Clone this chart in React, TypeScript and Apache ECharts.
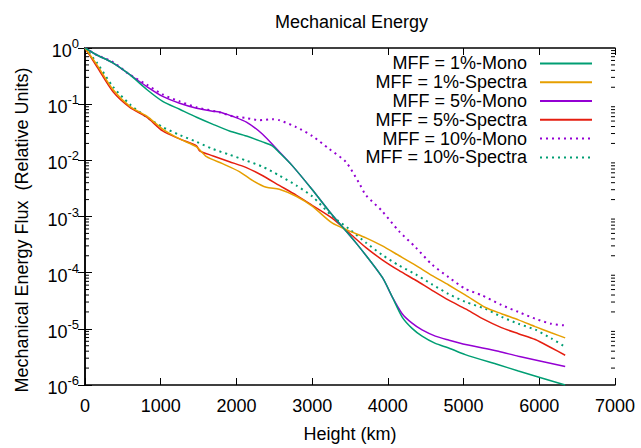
import React, { useEffect, useRef } from "react";
import * as echarts from "echarts";

const FONT = "'Liberation Sans', Arial, Helvetica, sans-serif";

const seriesNames = [
  "MFF = 1%-Mono",
  "MFF = 1%-Spectra",
  "MFF = 5%-Mono",
  "MFF = 5%-Spectra",
  "MFF = 10%-Mono",
  "MFF = 10%-Spectra",
];

// MFF = 1%-Mono
const mono1Height = [0, 150, 368, 592, 816, 1026, 1250, 1474, 1684, 1908, 2132, 2342, 2474, 2566, 2737, 3000, 3263, 3579, 3925, 4057, 4189, 4320, 4452, 4627, 4803, 5022, 5461, 5724, 6342];
const mono1Flux = [1, 0.759, 0.545, 0.335, 0.1824, 0.1122, 0.0811, 0.0586, 0.0442, 0.0333, 0.0272, 0.0213, 0.0181, 0.0138, 0.00805, 0.00302, 0.00107, 0.000339, 8.32e-5, 3.72e-5, 1.62e-5, 1.02e-5, 7.41e-6, 5.5e-6, 4.57e-6, 3.47e-6, 2.29e-6, 1.78e-6, 1.0e-6];

// MFF = 1%-Spectra
const spec1Height = [0, 158, 368, 592, 816, 1026, 1250, 1474, 1605, 1816, 2039, 2211, 2395, 2566, 2789, 3000, 3263, 3487, 3711, 3921, 4145, 4368, 4579, 4803, 5026, 5289, 5500, 5724, 5947, 6158, 6342];
const spec1Flux = [1, 0.501, 0.1824, 0.0916, 0.0611, 0.0361, 0.02405, 0.01738, 0.01159, 0.00873, 0.00631, 0.00439, 0.00331, 0.00305, 0.00229, 0.00153, 0.000767, 0.000556, 0.000417, 0.000302, 0.000202, 0.0001349, 8.97e-5, 6.03e-5, 3.98e-5, 2.4e-5, 1.86e-5, 1.445e-5, 1.096e-5, 8.5e-6, 6.9e-6];

// MFF = 5%-Mono
const mono5Height = [0, 150, 368, 592, 816, 1026, 1250, 1474, 1684, 1776, 1850, 1947, 2132, 2342, 2566, 2737, 3000, 3263, 3579, 3925, 4057, 4189, 4320, 4452, 4627, 4803, 5026, 5460, 5724, 6342];
const mono5Flux = [1, 0.759, 0.545, 0.335, 0.206, 0.1374, 0.1035, 0.0845, 0.0748, 0.0724, 0.0676, 0.0611, 0.0479, 0.0294, 0.0142, 0.00805, 0.00302, 0.00107, 0.000339, 8.32e-5, 3.72e-5, 1.86e-5, 1.26e-5, 9.55e-6, 7.41e-6, 6.31e-6, 5.25e-6, 3.98e-6, 3.24e-6, 2.14e-6];

// MFF = 5%-Spectra
const spec5Height = [0, 158, 368, 592, 816, 1026, 1250, 1474, 1513, 1684, 1908, 2132, 2342, 2566, 2789, 3000, 3263, 3487, 3711, 3921, 4145, 4368, 4579, 4803, 5026, 5237, 5500, 5724, 5947, 6158, 6342];
const spec5Flux = [1, 0.4634, 0.1683, 0.0879, 0.0586, 0.0333, 0.02405, 0.0181, 0.01479, 0.01208, 0.00946, 0.00743, 0.00537, 0.00358, 0.0024, 0.00158, 0.000933, 0.000513, 0.000279, 0.0001714, 0.0001096, 7.33e-5, 4.9e-5, 3.24e-5, 2.26e-5, 1.55e-5, 1.05e-5, 8.2e-6, 6.46e-6, 4.6e-6, 3.39e-6];

// MFF = 10%-Mono
const mono10Height = [0, 150, 368, 592, 816, 1026, 1250, 1474, 1776, 1947, 2132, 2303, 2474, 2566, 2789, 3000, 3224, 3447, 3618, 3711, 3921, 4145, 4368, 4579, 4803, 5026, 5237, 5500, 5724, 5947, 6158, 6342];
const mono10Flux = [1, 0.759, 0.562, 0.335, 0.2234, 0.149, 0.1122, 0.0879, 0.0718, 0.0611, 0.0564, 0.0519, 0.0541, 0.0519, 0.0391, 0.0272, 0.016, 0.00933, 0.00398, 0.0024, 0.00126, 0.00055, 0.000282, 0.000141, 8.3e-5, 5.13e-5, 3.98e-5, 2.66e-5, 2.0e-5, 1.51e-5, 1.23e-5, 1.15e-5];

// MFF = 10%-Spectra
const spec10Height = [0, 158, 368, 592, 816, 1026, 1250, 1474, 1684, 1908, 2132, 2342, 2566, 2789, 3000, 3263, 3487, 3711, 3921, 4145, 4368, 4579, 4803, 5026, 5289, 5500, 5724, 5947, 6158, 6342];
const spec10Flux = [1, 0.5445, 0.206, 0.0993, 0.0586, 0.0391, 0.0283, 0.0213, 0.016, 0.0126, 0.00986, 0.00776, 0.00537, 0.00358, 0.00229, 0.00102, 0.000603, 0.000342, 0.000209, 0.000135, 9.33e-5, 6.24e-5, 4.17e-5, 3.02e-5, 2.26e-5, 1.64e-5, 1.23e-5, 9.66e-6, 6.76e-6, 4.79e-6];

const xTickLabels = ["0", "1000", "2000", "3000", "4000", "5000", "6000", "7000"];
const minorMantissas = [2, 3, 4, 5, 6, 7, 8, 9];
const minorDecades = [-6, -5, -4, -3, -2, -1];

const colors = ["#009e73", "#e69f00", "#9400d3", "#e51e10", "#9400d3", "#009e73"];
const dotted = [false, false, false, false, true, true];

const heights = [mono1Height, spec1Height, mono5Height, spec5Height, mono10Height, spec10Height];
const fluxes = [mono1Flux, spec1Flux, mono5Flux, spec5Flux, mono10Flux, spec10Flux];

export default function App() {
  const ref = useRef<HTMLDivElement>(null);
  useEffect(() => {
    if (!ref.current) return;
    const chart = echarts.init(ref.current, null, { renderer: "svg" });

    const minorTicks: number[][] = [];
    minorDecades.forEach((d) => {
      minorMantissas.forEach((m) => {
        minorTicks.push([0, Number((m * Math.pow(10, d)).toPrecision(3))]);
      });
    });

    const lineSeries = seriesNames.map((name, i) => ({
      name,
      type: "line",
      xAxisIndex: 0,
      yAxisIndex: 0,
      data: heights[i].map((h, k) => [h, fluxes[i][k]]),
      showSymbol: false,
      symbol: "none",
      smooth: 0.25,
      z: 10 - i,
      lineStyle: {
        color: colors[i],
        width: dotted[i] ? 2 : 1.5,
        type: dotted[i] ? [2, 4] : "solid",
      },
      itemStyle: { color: colors[i] },
    }));

    const axisLine = { show: true, lineStyle: { color: "#000", width: 1.5 } };

    chart.setOption({
      animation: false,
      backgroundColor: "#fff",
      textStyle: { fontFamily: FONT },
      title: {
        text: "Mechanical Energy",
        left: 270,
        top: 8,
        textStyle: { fontFamily: FONT, fontSize: 18, fontWeight: "normal", color: "#000" },
      },
      legend: {
        data: seriesNames,
        orient: "vertical",
        align: "right",
        right: 43,
        top: 49,
        itemWidth: 52,
        itemHeight: 4,
        itemGap: 0,
        selectedMode: false,
        itemStyle: { opacity: 0 },
        textStyle: {
          fontFamily: FONT,
          fontSize: 18,
          color: "#000",
          width: 200,
          align: "right",
          lineHeight: 18.8,
          padding: [0, 8, 0, 0],
        },
      },
      grid: { left: 85, right: 26, top: 48, bottom: 59, containLabel: false },
      graphic: [
        {
          type: "text",
          x: 22,
          y: 230,
          rotation: Math.PI / 2,
          style: {
            text: "Mechanical Energy Flux  (Relative Units)",
            font: "18px " + FONT,
            fill: "#000",
            align: "center",
            verticalAlign: "middle",
          },
        },
      ],
      xAxis: [
        {
          type: "value",
          min: 0,
          max: 7000,
          interval: 1000,
          position: "bottom",
          name: "Height (km)",
          nameLocation: "middle",
          nameGap: 40,
          nameTextStyle: { fontFamily: FONT, fontSize: 18, color: "#000" },
          axisLine,
          axisTick: { show: true, inside: true, length: 7, lineStyle: { color: "#000", width: 1 } },
          axisLabel: {
            fontFamily: FONT,
            fontSize: 18,
            color: "#000",
            margin: 12,
            formatter: (v: number) => xTickLabels[Math.round(v / 1000)] ?? "",
          },
          splitLine: { show: false },
        },
        {
          type: "value",
          min: 0,
          max: 7000,
          interval: 1000,
          position: "top",
          axisLine,
          axisTick: { show: true, inside: true, length: 7, lineStyle: { color: "#000", width: 1 } },
          axisLabel: { show: false },
          splitLine: { show: false },
        },
      ],
      yAxis: [
        {
          type: "log",
          logBase: 10,
          min: 1e-6,
          max: 1,
          position: "left",
          axisLine,
          axisTick: { show: true, inside: true, length: 7, lineStyle: { color: "#000", width: 1 } },
          axisLabel: {
            margin: 6,
            formatter: (v: number) => {
              const e = Math.round(Math.log10(v));
              return "{b|10}{s|" + e + "}";
            },
            rich: {
              b: { fontFamily: FONT, fontSize: 18, color: "#000", lineHeight: 22, padding: [6, 0, 0, 0] },
              s: { fontFamily: FONT, fontSize: 13, color: "#000", verticalAlign: "top", lineHeight: 13 },
            },
          },
          splitLine: { show: false },
        },
        {
          type: "log",
          logBase: 10,
          min: 1e-6,
          max: 1,
          position: "right",
          axisLine,
          axisTick: { show: true, inside: true, length: 7, lineStyle: { color: "#000", width: 1 } },
          axisLabel: { show: false },
          splitLine: { show: false },
        },
      ],
      series: [
        ...lineSeries,
        {
          name: "minorTicks",
          type: "custom",
          xAxisIndex: 0,
          yAxisIndex: 0,
          silent: true,
          clip: false,
          data: minorTicks,
          encode: { x: 0, y: 1 },
          renderItem: (params: any, api: any) => {
            const v = api.value(1);
            const l = api.coord([0, v]);
            const r = api.coord([7000, v]);
            const st = { stroke: "#000", lineWidth: 1 };
            return {
              type: "group",
              children: [
                { type: "line", shape: { x1: l[0], y1: l[1], x2: l[0] + 4, y2: l[1] }, style: st },
                { type: "line", shape: { x1: r[0] - 4, y1: r[1], x2: r[0], y2: r[1] }, style: st },
              ],
            };
          },
        },
      ],
    });
    return () => chart.dispose();
  }, []);
  return <div ref={ref} style={{ width: 641, height: 448, position: "absolute", left: 0, top: 0 }} />;
}
